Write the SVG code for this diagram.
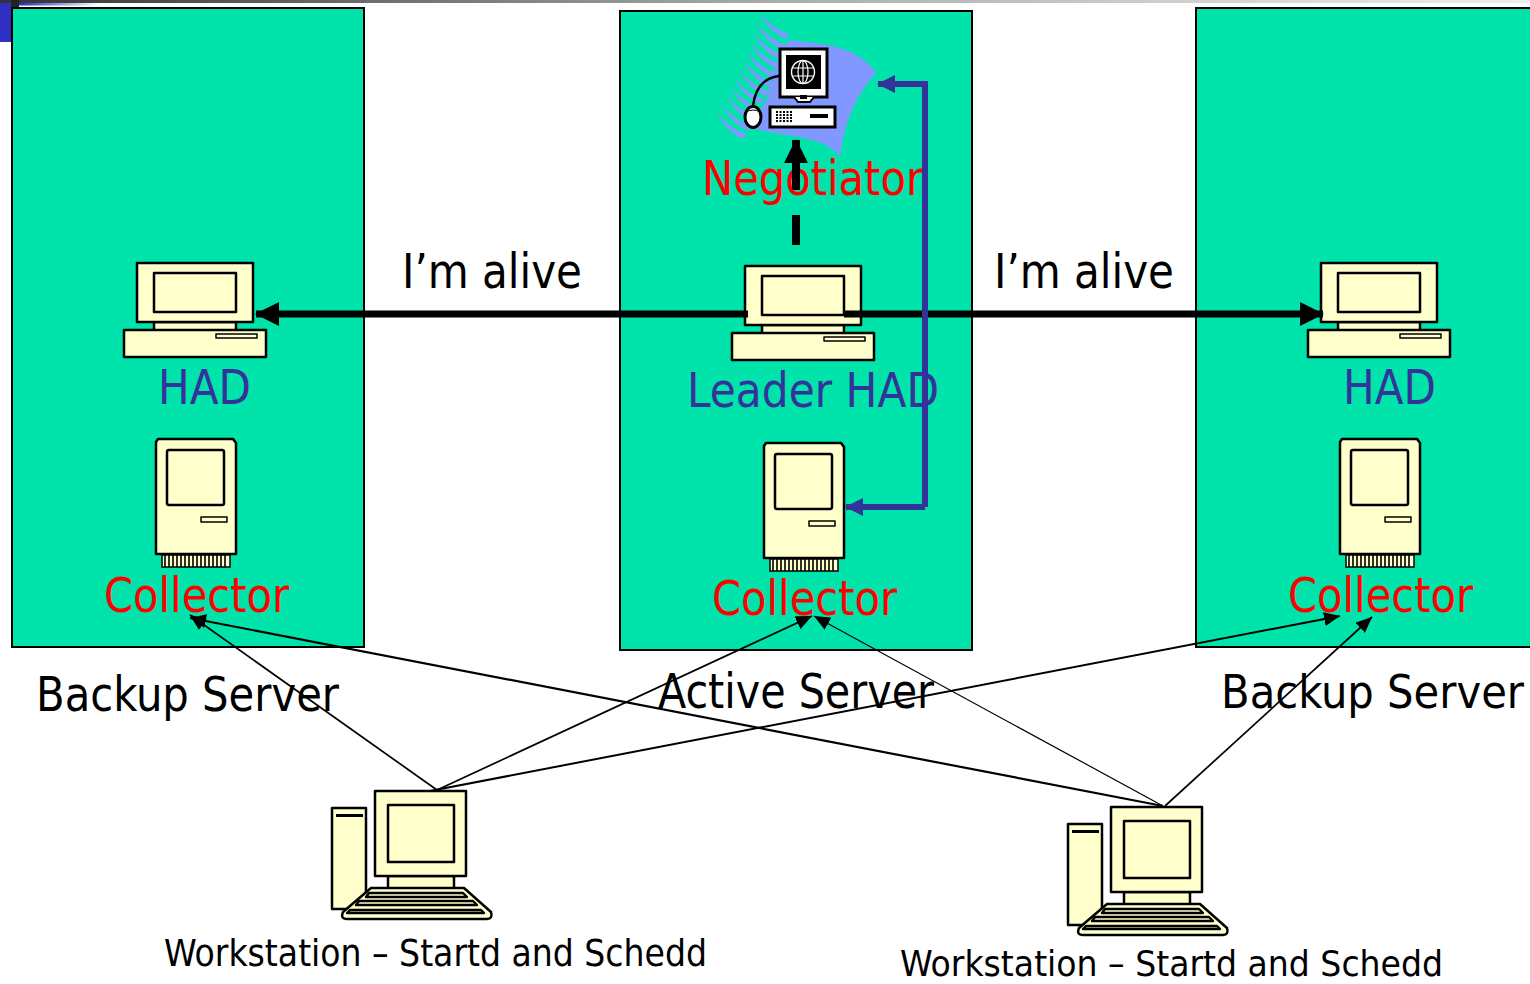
<svg xmlns="http://www.w3.org/2000/svg" width="1530" height="984" viewBox="0 0 1530 984">
<defs>
<style>
text{font-family:"DejaVu Sans Condensed","DejaVu Sans","Liberation Sans",sans-serif;font-stretch:condensed;font-size:48px}
.r{fill:#ff0000}.b{fill:#333399}.k{fill:#000}.s{font-size:38px}
.srv{fill:#00e3aa;stroke:#000;stroke-width:2}
.y{fill:#ffffcc;stroke:#000;stroke-width:2.5;stroke-linejoin:round}
.thin{fill:none;stroke:#000;stroke-width:1.7}
.thick{fill:none;stroke:#000;stroke-width:7}
.blue{fill:none;stroke:#333399;stroke-width:6}
.wave{fill:#8098ff}
</style>
<linearGradient id="top"><stop offset="0" stop-color="#333"/><stop offset="0.5" stop-color="#aaa"/><stop offset="1" stop-color="#eee"/></linearGradient>
<linearGradient id="bl"><stop offset="0" stop-color="#2a2ac0"/><stop offset="1" stop-color="#ffffff"/></linearGradient>
<marker id="ah" markerUnits="userSpaceOnUse" markerWidth="24" markerHeight="24" refX="23" refY="12" orient="auto"><path d="M0 0L24 12L0 24Z" fill="#000"/></marker>
<marker id="ab" markerUnits="userSpaceOnUse" markerWidth="18" markerHeight="18" refX="17" refY="9" orient="auto"><path d="M0 0L18 9L0 18Z" fill="#333399"/></marker>
<marker id="at" markerUnits="userSpaceOnUse" markerWidth="16" markerHeight="14" refX="16" refY="7" orient="auto"><path d="M0 0L16 7L0 14Z" fill="#000"/></marker>
<path id="st" class="wave" d="M0 0Q25 45 90 70L80 85Q20 55 0 0Z"/>
<g id="pc">
<rect class="y" x="762" y="325" width="82" height="9"/>
<rect class="y" x="745" y="266" width="116" height="59"/>
<rect class="y" x="762" y="276" width="82" height="39"/>
<rect class="y" x="732" y="333" width="142" height="27"/>
<rect class="y" x="824" y="337" width="41" height="4" style="stroke-width:1.5"/>
</g>
<g id="mac">
<path class="y" d="M766 443H841L844 447V558H764V446Z"/>
<rect class="y" x="775" y="454" width="57" height="55" rx="2"/>
<rect class="y" x="809" y="521" width="26" height="5" style="stroke-width:1.5"/>
<rect x="770" y="559" width="68" height="12" fill="#ffffcc" stroke="#000" stroke-width="1.5"/>
<path d="M773 559V571M777 559V571M781 559V571M785 559V571M789 559V571M793 559V571M797 559V571M801 559V571M805 559V571M809 559V571M813 559V571M817 559V571M821 559V571M825 559V571M829 559V571M833 559V571" stroke="#000" stroke-width="1.6"/>
</g>
<g id="ws">
<rect class="y" x="332" y="808" width="34" height="101"/>
<rect x="336" y="814" width="27" height="3" fill="#000"/>
<rect class="y" x="388" y="876" width="66" height="13"/>
<rect class="y" x="375" y="791" width="91" height="85"/>
<rect class="y" x="388" y="805" width="66" height="57"/>
<path class="y" d="M371 888H464L491 912Q493 919 487 919H347Q340 919 343 912Z"/>
<path class="y" d="M369 893H463L467 897H366Z" style="stroke-width:2.4"/>
<path class="y" d="M359 901H473L477 905H356Z" style="stroke-width:2.4"/>
<path class="y" d="M350 910H481L484 913H347Z" style="stroke-width:2.4"/>
</g>
</defs>
<rect width="1530" height="984" fill="#fff"/>
<rect x="0" y="0" width="1530" height="3" fill="url(#top)"/>
<rect x="0" y="3" width="11" height="39" fill="#2f2fc4"/>
<rect x="19" y="3" width="80" height="2.5" fill="url(#bl)"/>
<rect x="11" y="0" width="8" height="8" fill="#222"/>

<g id="server-left"><rect class="srv" x="12" y="8" width="352" height="639"/></g>
<g id="server-center"><rect class="srv" x="620" y="11" width="352" height="639"/></g>
<g id="server-right"><rect class="srv" x="1196" y="8" width="340" height="639"/></g>

<g id="negotiator-icon">
<g transform="translate(700 0) scale(.33333)">
<path class="wave" d="M270 120C340 130 470 130 528 218C470 285 435 360 420 470C390 430 330 415 260 405C220 398 185 395 150 380L200 300L240 150Z"/>
<use href="#st" x="178" y="33"/><use href="#st" x="168" y="65"/><use href="#st" x="160" y="95"/><use href="#st" x="150" y="122"/><use href="#st" x="140" y="150"/><use href="#st" x="130" y="178"/><use href="#st" x="118" y="205"/><use href="#st" x="102" y="228"/><use href="#st" x="92" y="255"/><use href="#st" x="80" y="282"/><use href="#st" x="65" y="308"/><use href="#st" x="50" y="333"/>
</g>
<rect x="780" y="49" width="47" height="48" fill="#fff" stroke="#000" stroke-width="3"/>
<rect x="786" y="55" width="35" height="34" fill="#000"/>
<circle cx="803" cy="72" r="11.5" fill="none" stroke="#fff" stroke-width="1.4"/>
<ellipse cx="803" cy="72" rx="5" ry="11.5" fill="none" stroke="#fff" stroke-width="1.2"/>
<path d="M803 60V84M792 68H814M792 76H814" stroke="#fff" stroke-width="1.2"/>
<path d="M794 97L798 102H810L814 97" fill="#fff" stroke="#000" stroke-width="2"/>
<rect x="800" y="95" width="7" height="4" fill="#000"/>
<rect x="770" y="107" width="65" height="20" fill="#fff" stroke="#000" stroke-width="3"/>
<path d="M776 112H792M776 115H792M776 118H792M776 121H792" stroke="#000" stroke-width="2" stroke-dasharray="2 1.5"/>
<rect x="810" y="114" width="18" height="4" fill="#000"/>
<path d="M779 76C762 78 755 90 753 106" fill="none" stroke="#000" stroke-width="2.5"/>
<ellipse cx="753" cy="117" rx="8" ry="10.5" fill="#fff" stroke="#000" stroke-width="3"/>
<path d="M746 112Q753 108 760 112" fill="none" stroke="#000" stroke-width="1"/>
</g>

<g id="had-left"><use href="#pc" x="-608" y="-3"/><text class="b" x="158" y="404" textLength="93" lengthAdjust="spacingAndGlyphs">HAD</text></g>
<g id="had-center"><use href="#pc"/><text class="b" x="687" y="407" textLength="252" lengthAdjust="spacingAndGlyphs">Leader HAD</text></g>
<g id="had-right"><use href="#pc" x="576" y="-3"/><text class="b" x="1343" y="404" textLength="93" lengthAdjust="spacingAndGlyphs">HAD</text></g>

<g id="collector-left"><use href="#mac" x="-608" y="-4"/><text class="r" x="104" y="612" textLength="185" lengthAdjust="spacingAndGlyphs">Collector</text></g>
<g id="collector-center"><use href="#mac"/><text class="r" x="712" y="615" textLength="185" lengthAdjust="spacingAndGlyphs">Collector</text></g>
<g id="collector-right"><use href="#mac" x="576" y="-4"/><text class="r" x="1288" y="612" textLength="185" lengthAdjust="spacingAndGlyphs">Collector</text></g>

<g id="workstation-left"><use href="#ws"/><text class="k s" x="164" y="966" textLength="543" lengthAdjust="spacingAndGlyphs">Workstation – Startd and Schedd</text></g>
<g id="workstation-right"><use href="#ws" x="736" y="16"/><text class="k s" x="900" y="976" style="font-size:36px" textLength="543" lengthAdjust="spacingAndGlyphs">Workstation – Startd and Schedd</text></g>

<g id="labels">
<text class="r" x="702" y="195" textLength="221" lengthAdjust="spacingAndGlyphs">Negotiator</text>
<text class="k" x="402" y="288" textLength="180" lengthAdjust="spacingAndGlyphs">I’m alive</text>
<text class="k" x="994" y="288" textLength="180" lengthAdjust="spacingAndGlyphs">I’m alive</text>
<text class="k" x="36" y="711" textLength="303" lengthAdjust="spacingAndGlyphs">Backup Server</text>
<text class="k" x="658" y="708" textLength="276" lengthAdjust="spacingAndGlyphs">Active Server</text>
<text class="k" x="1221" y="708" style="font-size:46px" textLength="303" lengthAdjust="spacingAndGlyphs">Backup Server</text>
</g>

<g id="connectors">
<path class="thick" d="M748 314H256" marker-end="url(#ah)"/>
<path class="thick" d="M844 314H1323" marker-end="url(#ah)"/>
<path class="thick" d="M796 245V215" style="stroke-width:8"/>
<path class="thick" d="M796 190V140" style="stroke-width:8" marker-end="url(#ah)"/>
<path class="blue" d="M925 507V84H878" marker-end="url(#ab)"/>
<path class="blue" d="M925 507H846" marker-end="url(#ab)"/>
<path class="thin" d="M437 790L190 615" marker-end="url(#at)"/>
<path class="thin" d="M437 790L812 616" marker-end="url(#at)"/>
<path class="thin" d="M430 791L1340 616" style="stroke-width:2" marker-end="url(#at)"/>
<path class="thin" d="M1163 806L190 618" style="stroke-width:2.2" marker-end="url(#at)"/>
<path class="thin" d="M1163 806L814 616" style="stroke-width:1.2" marker-end="url(#at)"/>
<path class="thin" d="M1165 806L1372 617" marker-end="url(#at)"/>
</g>
</svg>
